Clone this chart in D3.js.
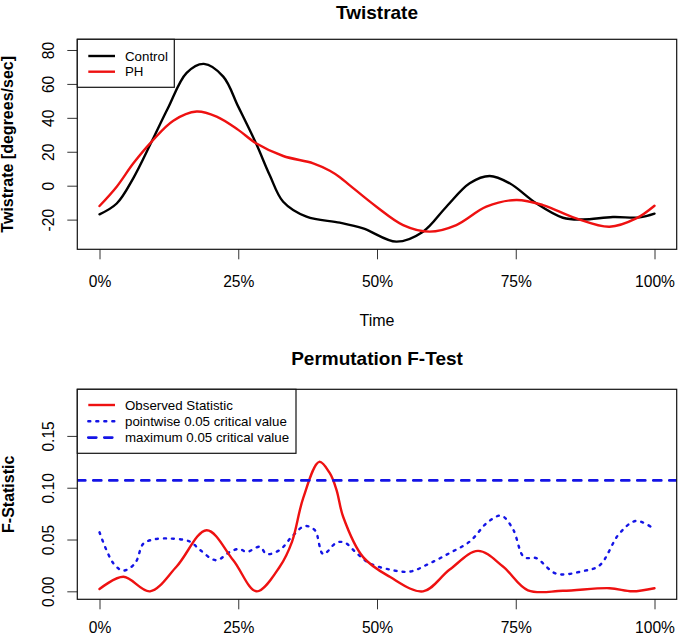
<!DOCTYPE html>
<html>
<head>
<meta charset="utf-8">
<script src="https://cdn.jsdelivr.net/npm/d3@7"></script>
<style>
  html, body { margin: 0; padding: 0; background: #fff; }
  svg { display: block; font-family: "Liberation Sans", Arial, Helvetica, sans-serif; }
</style>
</head>
<body>
<svg id="chart" width="678" height="636"></svg>
<script>
// ---------- data (time in %) ----------
const controlTime = [0, 3.1, 6.1, 9.4, 12.3, 15.7, 18.8, 22.3, 25, 28.2, 30.7, 33.1, 37.3, 43.3, 47.5, 53.5, 58.3, 62.5, 66.7, 70.3, 73.9, 78.7, 83.5, 87.1, 92.5, 97.3, 100];
const controlValue = [-16.9, -10.5, 4.5, 26, 45.5, 66.5, 71.8, 64.3, 46.6, 25, 6.0, -9.5, -18.3, -21.8, -25.2, -33.0, -27.1, -12.4, 1.4, 5.7, 1.4, -10.4, -18.9, -19.9, -18.5, -18.7, -16.5];

const phTime = [0, 3.1, 6.1, 9.4, 13.3, 17.5, 21.1, 25, 28.2, 33.1, 38.5, 41.5, 43.3, 45.1, 49.9, 54.7, 59.5, 64.3, 69.7, 75.1, 79.9, 85.9, 91.9, 96.7, 100];
const phValue = [-12.0, -0.6, 13.2, 26, 38.3, 43.7, 40.7, 32.9, 25, 17.5, 13.2, 8.8, 5.0, 0.2, -12.4, -23.2, -27.1, -23.2, -12.4, -8.4, -11.4, -19.3, -24.2, -19.3, -11.8];

const observedTime = [0, 4.3, 9.1, 13.9, 19.3, 24.1, 28.3, 32.5, 34.7, 36.7, 39.6, 41.5, 42.7, 43.9, 47.5, 52.3, 58.3, 63.1, 68.2, 72.7, 77.2, 83.5, 91.9, 96.0, 100];
const observedValue = [0.0022, 0.014, 0.0, 0.024, 0.059, 0.030, 0.0, 0.024, 0.048, 0.090, 0.125, 0.114, 0.098, 0.072, 0.033, 0.014, 0.0, 0.021, 0.039, 0.024, 0.001, 0.0005, 0.003, 0.0, 0.003];

const pointwiseTime = [0, 2.5, 4.3, 6.4, 7.9, 9.7, 12.7, 16.3, 18.1, 21.0, 23.5, 25.2, 26.5, 28.9, 30.1, 32.5, 34.7, 37.0, 38.8, 40.3, 42.7, 44.2, 46.3, 48.7, 52.3, 55.9, 59.5, 63.1, 66.7, 70.0, 72.4, 74.5, 76.5, 78.7, 82.3, 87.1, 90.1, 93.7, 96.7, 100];
const pointwiseValue = [0.057, 0.027, 0.020, 0.027, 0.046, 0.050, 0.051, 0.048, 0.040, 0.030, 0.038, 0.041, 0.038, 0.043, 0.036, 0.040, 0.053, 0.063, 0.059, 0.036, 0.047, 0.047, 0.037, 0.027, 0.021, 0.019, 0.027, 0.037, 0.048, 0.067, 0.073, 0.060, 0.033, 0.032, 0.017, 0.0195, 0.025, 0.056, 0.068, 0.060];

const maximumCritical = 0.107;

const xTicks = [0, 25, 50, 75, 100];
const xTickLabels = ["0%", "25%", "50%", "75%", "100%"];
const topYTicks = [-20, 0, 20, 40, 60, 80];
const topYTickLabels = ["-20", "0", "20", "40", "60", "80"];
const botYTicks = [0, 0.05, 0.10, 0.15];
const botYTickLabels = ["0.00", "0.05", "0.10", "0.15"];

const topLegendLabels = ["Control", "PH"];
const botLegendLabels = ["Observed Statistic", "pointwise 0.05 critical value", "maximum 0.05 critical value"];

// ---------- styling ----------
const RED = "#ee1111", BLUE = "#1414e6", BLACK = "#000";
const LW = 2.4;

const svg = d3.select("#chart");
const left = 77.3, right = 676.7;
const x = d3.scaleLinear().domain([-4, 104]).range([left, right]);

function panel(cfg) {
  const g = svg.append("g");
  const y = d3.scaleLinear().domain(cfg.yDomain).range([cfg.bottom, cfg.top]);

  // x axis
  const xa = g.append("g").attr("transform", `translate(0,${cfg.bottom})`)
    .call(d3.axisBottom(x).tickValues(xTicks).tickFormat((d, i) => xTickLabels[i]).tickSize(10));
  xa.select(".domain").remove();
  xa.selectAll(".tick line").attr("stroke", "#333");
  xa.selectAll(".tick text").attr("y", cfg.xLabelOffset).attr("dy", null)
    .attr("font-size", "15.6px").attr("fill", "#000").attr("font-family", null);

  // y axis
  const ya = g.append("g").attr("transform", `translate(${left},0)`)
    .call(d3.axisLeft(y).tickValues(cfg.yTicks).tickFormat((d, i) => cfg.yTickLabels[i]).tickSize(10));
  ya.select(".domain").remove();
  ya.selectAll(".tick line").attr("stroke", "#333");
  ya.selectAll(".tick text").attr("x", null).attr("dy", null)
    .attr("text-anchor", "middle")
    .attr("transform", "translate(-23.8,0) rotate(-90)")
    .attr("font-size", "15.6px").attr("fill", "#000").attr("font-family", null);

  // lines
  const clipId = "clip" + cfg.id;
  svg.append("clipPath").attr("id", clipId).append("rect")
    .attr("x", left).attr("y", cfg.top).attr("width", right - left).attr("height", cfg.bottom - cfg.top);
  const lg = g.append("g").attr("clip-path", `url(#${clipId})`);
  cfg.series.forEach(s => {
    const line = d3.line().x((d, i) => x(s.t[i])).y(d => y(d)).curve(d3.curveCatmullRom.alpha(0.5));
    lg.append("path").datum(s.v).attr("d", line)
      .attr("fill", "none").attr("stroke", s.color).attr("stroke-width", LW)
      .attr("stroke-linecap", "round").attr("stroke-linejoin", "round")
      .attr("stroke-dasharray", s.dash || null);
  });
  (cfg.hlines || []).forEach(h => {
    lg.append("line").attr("x1", left).attr("x2", right).attr("y1", y(h.v)).attr("y2", y(h.v))
      .attr("stroke", h.color).attr("stroke-width", 2.7).attr("stroke-dasharray", h.dash)
      .attr("stroke-linecap", "round");
  });

  // box
  g.append("rect").attr("x", left).attr("y", cfg.top).attr("width", right - left).attr("height", cfg.bottom - cfg.top)
    .attr("fill", "none").attr("stroke", "#111").attr("stroke-width", 1.2);

  // legend
  const L = cfg.legend;
  const lgd = g.append("g");
  lgd.append("rect").attr("x", left).attr("y", cfg.top).attr("width", L.w).attr("height", L.h)
    .attr("fill", "#fff").attr("stroke", "#111").attr("stroke-width", 1.2);
  L.items.forEach((it, i) => {
    const yy = cfg.top + L.first + i * L.step;
    lgd.append("line").attr("x1", 88.3).attr("x2", 115).attr("y1", yy).attr("y2", yy)
      .attr("stroke", it.color).attr("stroke-width", it.lw || LW).attr("stroke-dasharray", it.dash || null)
      .attr("stroke-linecap", it.cap || "butt");
    lgd.append("text").attr("x", 125).attr("y", yy + 4.6).attr("font-size", "13.3px").attr("fill", "#000").text(it.label);
  });

  // titles
  svg.append("text").attr("x", (left + right) / 2).attr("y", cfg.titleY).attr("text-anchor", "middle")
    .attr("font-size", "19px").attr("font-weight", "bold").text(cfg.title);
  svg.append("text").attr("transform", `translate(${cfg.yTitleX},${(cfg.top + cfg.bottom) / 2}) rotate(-90)`)
    .attr("text-anchor", "middle").attr("font-size", "16px").attr("font-weight", "bold").text(cfg.yTitle);
  if (cfg.xTitle) {
    svg.append("text").attr("x", (left + right) / 2).attr("y", cfg.xTitleY).attr("text-anchor", "middle")
      .attr("font-size", "16px").text(cfg.xTitle);
  }
}

panel({
  id: "top", top: 39.3, bottom: 249.3, yDomain: [-37.5, 86.3],
  yTicks: topYTicks, yTickLabels: topYTickLabels, xLabelOffset: 37.4,
  series: [
    { t: controlTime, v: controlValue, color: BLACK },
    { t: phTime, v: phValue, color: RED }
  ],
  legend: { w: 97, h: 48, first: 16.7, step: 15.7,
    items: [ { label: topLegendLabels[0], color: BLACK }, { label: topLegendLabels[1], color: RED } ] },
  title: "Twistrate", titleY: 18.5,
  yTitle: "Twistrate [degrees/sec]", yTitleX: 13,
  xTitle: "Time", xTitleY: 326
});

panel({
  id: "bot", top: 389.3, bottom: 599.3, yDomain: [-0.0077, 0.195],
  yTicks: botYTicks, yTickLabels: botYTickLabels, xLabelOffset: 34,
  series: [
    { t: pointwiseTime, v: pointwiseValue, color: BLUE, dash: "2,6" },
    { t: observedTime, v: observedValue, color: RED }
  ],
  hlines: [ { v: maximumCritical, color: BLUE, dash: "8,8" } ],
  legend: { w: 218.7, h: 64, first: 15.7, step: 16.3,
    items: [
      { label: botLegendLabels[0], color: RED },
      { label: botLegendLabels[1], color: BLUE, dash: "2,6", cap: "round" },
      { label: botLegendLabels[2], color: BLUE, dash: "8,8", cap: "round", lw: 2.7 }
    ] },
  title: "Permutation F-Test", titleY: 365,
  yTitle: "F-Statistic", yTitleX: 14
});
</script>
</body>
</html>
